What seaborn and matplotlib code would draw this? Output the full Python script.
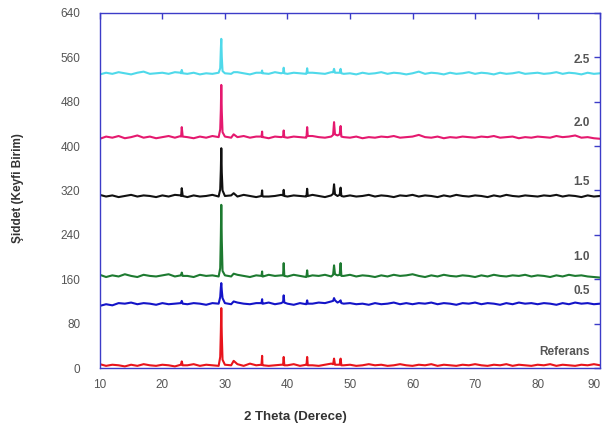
import pandas as pd
import matplotlib
matplotlib.use("Agg")
import matplotlib.pyplot as plt
import seaborn as sns

# 2 theta grid for the background and extra points around the peaks
two_theta = list(range(10, 91))
peak_theta = [22.95, 23.1, 23.25, 29.25, 29.35, 29.42, 29.5, 29.62, 31.4,
              35.85, 35.95, 36.1, 39.3, 39.4, 39.5, 43.05, 43.15, 43.25,
              47.3, 47.45, 47.6, 48.35, 48.5, 48.62]

samples = ["Referans", "0.5", "1.0", "1.5", "2.0", "2.5"]

# background intensities, one value per degree (10..90)
base_25 = [529, 532, 530, 533, 531, 529, 532, 534, 530, 531,
           532, 530, 533, 531, 530, 532, 529, 531, 530, 532,
           531, 530, 533, 531, 529, 532, 531, 530, 533, 531,
           530, 532, 531, 530, 532, 531, 530, 533, 532, 530,
           531, 529, 532, 530, 531, 533, 530, 532, 531, 529,
           531, 534, 530, 532, 531, 529, 532, 530, 531, 533,
           530, 532, 531, 529, 532, 530, 531, 533, 530, 531,
           532, 530, 531, 533, 530, 532, 531, 529, 532, 530, 531]
base_20 = [413, 417, 415, 418, 414, 416, 419, 415, 417, 414,
           416, 418, 415, 417, 416, 414, 417, 415, 418, 416,
           417, 415, 416, 418, 415, 417, 416, 414, 417, 416,
           415, 417, 416, 415, 418, 416, 415, 417, 419, 416,
           415, 417, 414, 416, 415, 417, 416, 418, 415, 416,
           417, 420, 416, 415, 417, 414, 416, 415, 417, 416,
           415, 417, 416, 418, 415, 416, 417, 414, 416, 415,
           417, 416, 415, 418, 416, 417, 419, 415, 416, 414, 413]
base_15 = [312, 309, 311, 308, 310, 312, 309, 311, 310, 308,
           311, 309, 312, 310, 308, 311, 309, 310, 312, 309,
           310, 311, 309, 312, 310, 308, 311, 309, 310, 312,
           309, 311, 310, 309, 312, 310, 308, 311, 310, 309,
           311, 309, 310, 312, 309, 311, 310, 308, 311, 310,
           312, 309, 311, 310, 308, 311, 309, 312, 310, 309,
           311, 310, 308, 311, 309, 312, 310, 309, 311, 310,
           309, 311, 310, 312, 309, 311, 310, 308, 311, 309, 310]
base_10 = [168, 164, 167, 165, 169, 166, 164, 168, 166, 165,
           167, 169, 165, 167, 166, 164, 168, 166, 167, 165,
           167, 165, 168, 166, 164, 167, 165, 168, 166, 167,
           165, 168, 166, 164, 167, 166, 168, 165, 167, 166,
           168, 165, 167, 166, 164, 167, 165, 168, 166, 167,
           169, 166, 164, 167, 165, 168, 166, 165, 167, 166,
           164, 167, 165, 168, 166, 165, 167, 166, 168, 165,
           167, 166, 164, 167, 165, 168, 166, 167, 165, 164, 163]
base_05 = [112, 115, 113, 117, 116, 118, 115, 117, 116, 114,
           117, 115, 116, 118, 115, 117, 116, 114, 117, 116,
           117, 115, 118, 116, 115, 117, 116, 118, 115, 117,
           116, 114, 117, 115, 116, 118, 117, 120, 118, 116,
           117, 115, 116, 114, 117, 115, 116, 118, 115, 117,
           115, 117, 116, 118, 115, 117, 116, 114, 117, 116,
           118, 115, 117, 116, 114, 117, 115, 118, 116, 117,
           115, 117, 116, 114, 117, 115, 118, 116, 117, 115, 116]
base_ref = [7, 4, 6, 5, 3, 6, 4, 7, 5, 4,
            6, 5, 3, 6, 5, 7, 4, 6, 5, 4,
            6, 5, 7, 4, 8, 5, 6, 4, 5, 6,
            5, 7, 4, 6, 5, 4, 6, 8, 6, 5,
            6, 4, 5, 7, 5, 6, 4, 5, 7, 5,
            4, 6, 5, 7, 4, 6, 5, 4, 6, 5,
            7, 5, 4, 6, 5, 7, 4, 6, 5, 4,
            6, 5, 7, 4, 6, 5, 4, 6, 5, 7, 5]

# intensities at the peak_theta positions
peak_25 = [532, 537, 531, 540, 575, 593, 560, 535, 533, 532, 536, 531,
           532, 541, 531, 531, 540, 532, 533, 539, 532, 532, 539, 531]
peak_20 = [418, 434, 417, 430, 465, 510, 462, 425, 421, 417, 426, 416,
           417, 428, 416, 417, 434, 418, 420, 443, 421, 421, 436, 417]
peak_15 = [311, 324, 310, 322, 357, 396, 352, 320, 315, 310, 320, 309,
           311, 321, 310, 311, 323, 310, 314, 331, 313, 312, 325, 310]
peak_10 = [167, 172, 166, 180, 238, 294, 230, 175, 170, 166, 174, 165,
           167, 189, 166, 166, 176, 165, 168, 185, 169, 168, 189, 166]
peak_05 = [117, 121, 116, 128, 145, 153, 140, 126, 120, 117, 124, 116,
           119, 131, 118, 117, 122, 116, 121, 126, 122, 120, 122, 117]
peak_ref = [6, 12, 5, 20, 65, 108, 60, 15, 13, 6, 22, 5,
            6, 20, 5, 6, 20, 5, 7, 17, 6, 6, 17, 5]

label_y = [29, 139, 200, 335, 441, 555]

backgrounds = [base_ref, base_05, base_10, base_15, base_20, base_25]
peaks = [peak_ref, peak_05, peak_10, peak_15, peak_20, peak_25]
colors = {"Referans": "#e8141c", "0.5": "#1414c8", "1.0": "#1d7a30",
          "1.5": "#111111", "2.0": "#e5196f", "2.5": "#4fd9ea"}

frames = []
for name, b, p in zip(samples, backgrounds, peaks):
    frames.append(pd.DataFrame({"theta": two_theta + peak_theta,
                                "intensity": b + p,
                                "sample": name}))
df = pd.concat(frames, ignore_index=True)

sns.set_style("white")
plt.rcParams['font.family'] = ['Liberation Sans', 'DejaVu Sans']

fig = plt.figure(figsize=(6.05, 4.26), dpi=100)
ax = fig.add_axes([0.165, 0.136, 0.827, 0.834])
sns.lineplot(data=df, x="theta", y="intensity", hue="sample", palette=colors,
             hue_order=samples, estimator=None, sort=True, lw=1.5,
             legend=False, ax=ax)

frame_col = "#3c3cc8"
ax.set_xlim(10, 90)
ax.set_ylim(0, 640)
ax.set_xticks(range(10, 91, 10))
ax.set_yticks(range(0, 641, 80))
for sp in ax.spines.values():
    sp.set_color(frame_col)
    sp.set_linewidth(1.0)
ax.tick_params(direction="in", color=frame_col, length=4, width=1,
               top=True, right=True, labelcolor="#555555", labelsize=8.5)
ax.tick_params(axis="x", pad=8)
ax.tick_params(axis="y", pad=14)
ax.get_xticklabels()[-1].set_horizontalalignment("right")

for name, y in zip(samples, label_y):
    ax.text(88.3, y, name, ha="right", va="center", fontsize=8.5,
            fontweight="bold", color="#555555")

ax.set_xlabel("2 Theta (Derece)", fontsize=9.5, fontweight="bold",
              color="#333333")
ax.xaxis.set_label_coords(0.39, -0.12)
ax.set_ylabel("Şiddet (Keyfi Birim)", fontsize=8.5, fontweight="bold",
              color="#333333")
ax.yaxis.set_label_coords(-0.152, 0.507)

fig.savefig("out.png", dpi=100)
